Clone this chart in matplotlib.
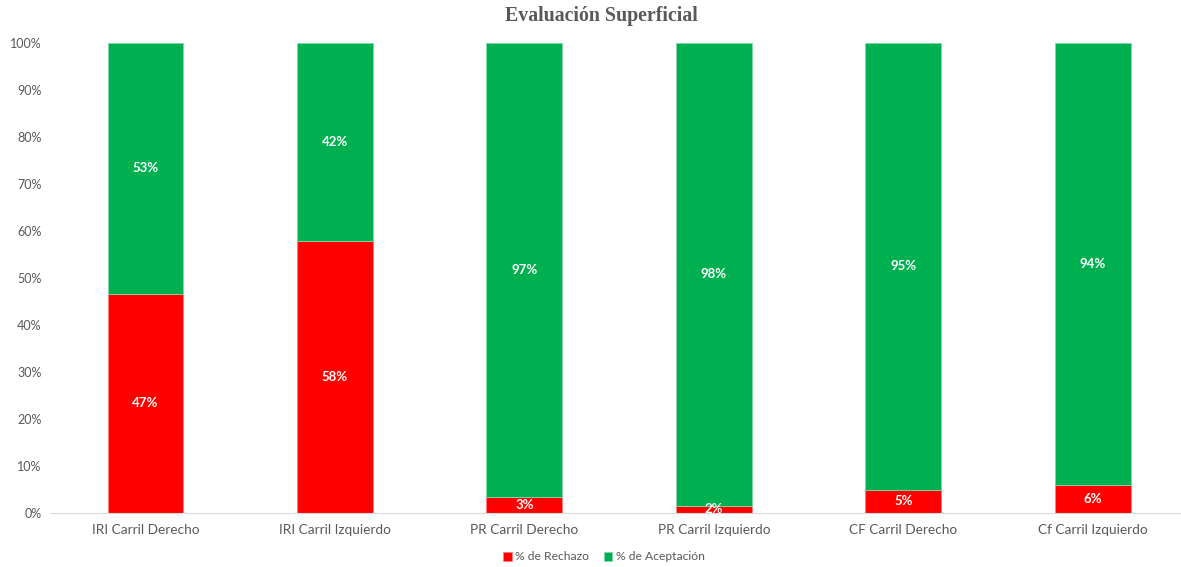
import matplotlib.pyplot as plt
import numpy as np
from matplotlib.ticker import PercentFormatter

# Datos de la evaluación superficial (% de rechazo por tramo)
categorias = ['IRI Carril Derecho', 'IRI Carril Izquierdo', 'PR Carril Derecho',
              'PR Carril Izquierdo', 'CF Carril Derecho', 'Cf Carril Izquierdo']
rechazo = [46.6, 57.9, 3.4, 1.5, 4.9, 6.0]
aceptacion = [100 - r for r in rechazo]

ROJO = '#ff0000'
VERDE = '#00b050'
GRIS = '#595959'

plt.rcParams['font.family'] = ['Lato', 'DejaVu Sans']

fig = plt.figure(figsize=(11.81, 5.67), dpi=100)
ax = fig.add_axes([50 / 1181, 54 / 567, 1131 / 1181, 470 / 567])

x = np.arange(len(categorias))
ancho = 0.4
b1 = ax.bar(x, rechazo, ancho, color=ROJO, edgecolor='#ff8080', linewidth=0.6,
            label='% de Rechazo')
b2 = ax.bar(x, aceptacion, ancho, bottom=rechazo, color=VERDE, edgecolor='#80d8a8',
            linewidth=0.6, label='% de Aceptación')

# etiquetas de valor centradas en cada segmento
for xi, r, a in zip(x, rechazo, aceptacion):
    ax.text(xi, r / 2, f'{round(r):d}%', ha='center', va='center',
            color='white', fontsize=9.5, fontweight='bold')
    ax.text(xi, r + a / 2, f'{round(a):d}%', ha='center', va='center',
            color='white', fontsize=9.5, fontweight='bold')

ax.set_ylim(0, 100)
ax.set_xlim(-0.504, 5.466)
ax.set_yticks(np.arange(0, 101, 10))
ax.yaxis.set_major_formatter(PercentFormatter(decimals=0))
ax.set_xticks(x)
ax.set_xticklabels(categorias)
ax.tick_params(axis='both', length=0, labelsize=9, colors=GRIS)
ax.tick_params(axis='x', pad=8, labelsize=9.8)
ax.tick_params(axis='y', pad=6)

for lado in ['top', 'right', 'left']:
    ax.spines[lado].set_visible(False)
ax.spines['bottom'].set_color('#d9d9d9')

fig.text(601 / 1181, 0.972, 'Evaluación Superficial', ha='center', va='center',
         fontsize=14.3, fontweight='bold', color=GRIS, family='Liberation Serif')

fig.legend(handles=[b1, b2], loc='center', bbox_to_anchor=(604 / 1181, 1 - 557 / 567),
           ncol=2, frameon=False, fontsize=8.7, handlelength=0.7, handleheight=0.7,
           handletextpad=0.3, columnspacing=1.2, labelcolor=GRIS)

fig.savefig('out.png', dpi=100)
